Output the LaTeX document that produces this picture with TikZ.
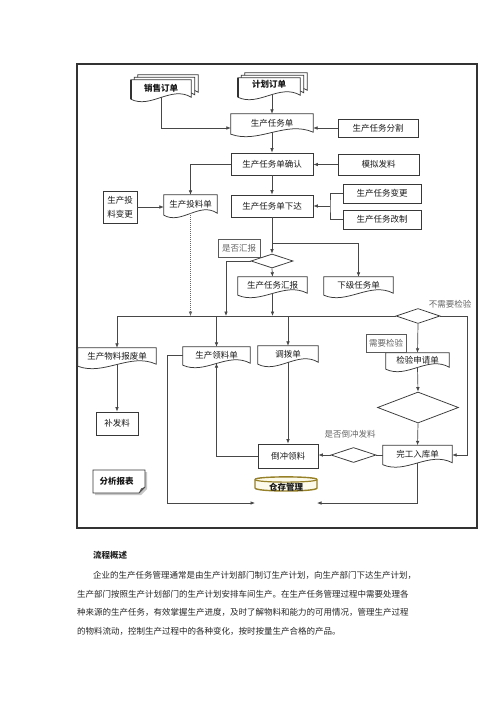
\documentclass[tikz,border=0pt]{standalone}
\usepackage{fontspec}
\setmainfont{Noto Sans CJK SC}
\usetikzlibrary{arrows.meta,calc,shapes.geometric}
\newcommand\docdraw[4]{% name, dx, dy, style
  \draw[#4] ($(#1.south west)+(#2,#3)+(0,2)$) -- ($(#1.north west)+(#2,#3)$) -- ($(#1.north east)+(#2,#3)$) -- ($(#1.south east)+(#2,#3)$)
   .. controls ($(#1.south east)!0.33!(#1.south west)+(#2,#3)+(0,-12)$) and ($(#1.south east)!0.67!(#1.south west)+(#2,#3)+(0,12)$) .. ($(#1.south west)+(#2,#3)+(0,2)$) -- cycle;}
\tikzset{
  ln/.style={draw=black!78, line width=0.75pt},
  conn/.style={draw=black!72, line width=0.7pt},
  arr/.style={conn, -{Latex[length=4.5pt,width=3.6pt]}},
  txt/.style={font=\fontsize{8.5}{10}\selectfont, text=black!90},
  rbox/.style={ln, fill=white, inner sep=0pt, txt},
  docn/.style={inner sep=0pt, txt},
  lab/.style={txt, text=black!60},
  labbox/.style={ln, draw=black!65, fill=white, inner sep=0pt, txt, text=black!60},
  dia/.style={diamond, ln, fill=white, inner sep=0pt},
  para/.style={font=\fontsize{8.5}{10}\selectfont, text=black!85, anchor=west, inner sep=0pt},
}
\begin{document}
\begin{tikzpicture}[x=1pt,y=-1pt]
\useasboundingbox (0,0) rectangle (500,707);
\fill[white] (0,0) rectangle (500,707);
% frame
\draw[line width=1.1pt, black!80] (77,64) rectangle (477,528);

% stacked documents
\node[docn, minimum width=60pt, minimum height=17pt] (xs) at (161,88.5) {};
\node[docn, minimum width=62pt, minimum height=17pt] (jh) at (269,86.5) {};
\docdraw{xs}{7}{-5}{ln, fill=white}
\docdraw{xs}{3.5}{-2.5}{ln, fill=white}
\docdraw{xs}{0}{0}{ln, fill=white}
\docdraw{jh}{7}{-5}{ln, fill=white}
\docdraw{jh}{3.5}{-2.5}{ln, fill=white}
\docdraw{jh}{0}{0}{ln, fill=white}
\draw[line width=1.4pt, black!80] (xs.north west) -- ($(xs.south west)+(0,2)$);
\draw[line width=1.4pt, black!80] (jh.north west) -- ($(jh.south west)+(0,2)$);
\node[txt, font=\fontsize{8.5}{10}\selectfont\bfseries] at (xs) {销售订单};
\node[txt, font=\fontsize{8.5}{10}\selectfont\bfseries] at ($(jh)+(0,-2)$) {计划订单};

% document nodes
\node[docn, minimum width=82pt, minimum height=18pt] (rw) at (272,123) {生产任务单};
\node[docn, minimum width=53pt, minimum height=18pt] (tl) at (190.5,204) {生产投料单};
\node[docn, minimum width=69pt, minimum height=16pt] (hbd) at (272.5,285) {生产任务汇报};
\node[docn, minimum width=69pt, minimum height=16pt] (xj) at (358.5,285) {下级任务单};
\node[docn, minimum width=78pt, minimum height=16pt] (bf) at (117,356) {生产物料报废单};
\node[docn, minimum width=67pt, minimum height=16pt] (ll) at (216.5,355) {生产领料单};
\node[docn, minimum width=60pt, minimum height=16pt] (db) at (288,354) {调拨单};
\node[docn, minimum width=63pt, minimum height=14pt] (jy) at (417.5,360) {检验申请单};
\node[docn, minimum width=69pt, minimum height=17pt] (wg) at (417.5,454) {完工入库单};
\foreach \n in {rw,tl,hbd,xj,bf,ll,db,jy,wg} {\docdraw{\n}{0}{0}{ln}}

% rectangles
\node[rbox, minimum width=80pt, minimum height=18pt] (fg) at (378,128) {生产任务分割};
\node[rbox, minimum width=82pt, minimum height=22pt] (qr) at (272,164) {生产任务单确认};
\node[rbox, minimum width=81pt, minimum height=21pt] (mn) at (378.5,164.5) {模拟发料};
\node[rbox, minimum width=34pt, minimum height=32pt, align=center, font=\fontsize{8.5}{14}\selectfont] (tb) at (120,207) {生产投\\料变更};
\node[rbox, minimum width=82pt, minimum height=22pt] (xd) at (272,206) {生产任务单下达};
\node[rbox, minimum width=78pt, minimum height=19pt] (bg) at (382,193.5) {生产任务变更};
\node[rbox, minimum width=78pt, minimum height=19pt] (gz) at (382,219.5) {生产任务改制};
\node[labbox, minimum width=42pt, minimum height=18pt] (hb) at (239,248) {是否汇报};
\node[labbox, minimum width=40pt, minimum height=18pt] (xy) at (386,343) {需要检验};
\node[rbox, minimum width=60pt, minimum height=24pt] (dc) at (288,456) {倒冲领料};
\node[rbox, minimum width=42pt, minimum height=23pt] (bfl) at (117,423.5) {补发料};

% diamonds
\node[dia, minimum width=42pt, minimum height=14pt] (d1) at (272,261) {};
\node[dia, minimum width=44pt, minimum height=15pt] (d2) at (418,316) {};
\node[dia, minimum width=81pt, minimum height=31pt] (d3) at (418,407.5) {};
\node[dia, minimum width=45pt, minimum height=15pt] (d4) at (353.5,455) {};

% labels
\node[lab] (nj) at (450,304) {不需要检验};
\node[lab] (dcl) at (350,434) {是否倒冲发料};

% 仓存管理 drum
\draw[draw={rgb,255:red,150;green,128;blue,40}, line width=1.4pt, fill={rgb,255:red,252;green,250;blue,235}]
  (255,479.5) -- (255,488) .. controls (255,492) and (317,492) .. (317,488) -- (317,479.5)
  .. controls (317,476) and (255,476) .. (255,479.5) -- cycle;
\draw[draw={rgb,255:red,150;green,128;blue,40}, line width=1.2pt]
  (255,479.5) .. controls (255,483) and (317,483) .. (317,479.5);
\node[txt, font=\fontsize{8.5}{10}\selectfont\bfseries] (cc) at (286,487) {仓存管理};

% 分析报表
\fill[black!22] (95,472) -- (147,472) -- (147,489) -- (141,495) -- (95,495) -- cycle;
\draw[ln, fill=white] (93,470) -- (145,470) -- (145,487) -- (139,493) -- (93,493) -- cycle;
\fill[black!65] (139,493) -- (141,488.5) -- (145,487) -- cycle;
\node[txt, font=\fontsize{8.5}{10}\selectfont\bfseries, anchor=west] (fx) at (96,481.5) {分析报表};

% connectors
\draw[arr] (xs.south) |- (fg.west -| rw.west);
\draw[arr] (rw.north |- jh.south) -- (rw.north);
\draw[arr] (fg.west) -- (fg.west -| rw.east);
\draw[arr] (rw.south) -- (qr.north);
\draw[arr] (mn.west) -- (mn.west -| qr.east);
\draw[arr] (qr.west) -| (tl.north);
\draw[arr] (tb.east) -- (tb.east -| tl.west);
\draw[arr] (qr.south) -- (xd.north);
\coordinate (br) at (330,206);
\draw[conn] (bg.west) -| (br) |- (gz.west);
\draw[arr] (br) -- (br -| xd.east);
\draw[arr] (xd.south) -- (d1.north);
\coordinate (j1) at (272,243);
\draw[arr] (j1) -| (xj.north);
\draw[arr] (d1.south) -- (hbd.north);
\coordinate (busL) at (117,316);
\coordinate (b1) at (226,316);
\draw[conn] (busL) -- (d2.west);
\draw[arr] (d1.west) -| (b1);
\draw[arr] (hbd.south) -- (hbd.south |- busL);
\draw[arr, draw=black!60, line width=0.5pt, dash pattern=on 0.8pt off 1.2pt] (tl.south) -- (tl.south |- busL);
\draw[arr] (busL) -- (bf.north);
\draw[arr] (ll.north |- busL) -- (ll.north);
\draw[arr] (db.north |- busL) -- (db.north);
\draw[arr] (d2.south) -- (jy.north);
\coordinate (rr) at (467,316);
\draw[arr] (d2.east) -- (rr) |- (d4.east -| wg.east);
\draw[arr] (bf.south) -- (bfl.north);
\coordinate (lw) at (167,503);
\coordinate (cl) at (255,503);
\coordinate (cr) at (317,503);
\draw[arr] (ll.west) -| (lw) -- (cl);
\draw[arr] (dc.west) -| (ll.south);
\draw[arr] (db.south) -- (dc.north);
\draw[arr] (d4.west) -- (d4.west -| dc.east);
\draw[conn] (d4.east) -- (d4.east -| wg.west);
\draw[arr] (jy.south) -- (d3.north);
\draw[arr] (d3.south) -- (wg.north);
\draw[arr] (wg.south) |- (cr);

% paragraph
\node[para, font=\fontsize{8.5}{10}\selectfont\bfseries] (p0) at (93,555) {流程概述};
\node[para] (p1) at (93,575) {企业的生产任务管理通常是由生产计划部门制订生产计划，向生产部门下达生产计划，};
\node[para] (p2) at (77,594) {生产部门按照生产计划部门的生产计划安排车间生产。在生产任务管理过程中需要处理各};
\node[para] (p3) at (77,612.5) {种来源的生产任务，有效掌握生产进度，及时了解物料和能力的可用情况，管理生产过程};
\node[para] (p4) at (77,631) {的物料流动，控制生产过程中的各种变化，按时按量生产合格的产品。};
\end{tikzpicture}
\end{document}
